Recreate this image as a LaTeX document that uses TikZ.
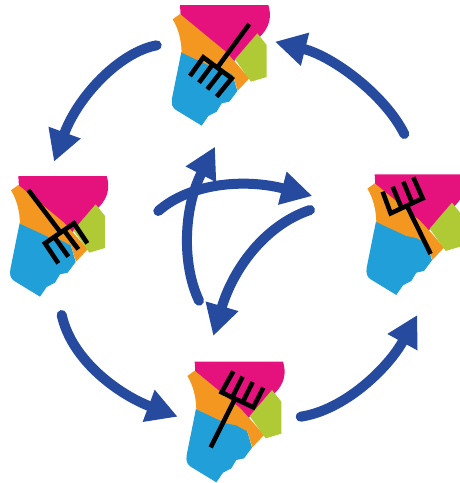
\documentclass[tikz,border=0pt]{standalone}
\usetikzlibrary{arrows.meta}
\definecolor{mag}{HTML}{E5127D}
\definecolor{org}{HTML}{F39720}
\definecolor{blu}{HTML}{219FD9}
\definecolor{grn}{HTML}{AFCA35}
\definecolor{arw}{HTML}{264A9E}
\tikzset{
  flow/.style={draw=arw,line width=10pt,line cap=round,-{Triangle[length=31pt,width=32pt,fill=arw]}},
  fork/.style={draw=black,line width=4.6pt,line join=miter,line cap=butt},
}
\newcommand{\MapAt}[2]{%
  \begin{scope}[xshift=#1pt,yshift=-#2pt,x=0.33333pt,y=-0.33333pt]
    \fill[mag] (90,15) -- (355,15) .. controls (366,50) and (358,80) .. (334,106) -- (250,185) -- (92,48) -- cycle;
    \fill[blu] (94,156) -- (185,195) -- (215,200) -- (246,218) -- (262,273) -- (238,305) -- (215,310) -- (200,335) -- (175,348) -- (155,377) -- (78,330) .. controls (66,322) and (64,312) .. (66,295) -- cycle;
    \fill[org] (68,58) -- (90,42) -- (226,154) -- (250,180) -- (298,235) -- (263,272) -- (248,224) -- (215,206) -- (185,200) -- (95,158) .. controls (94,120) and (85,85) .. (68,58) -- cycle;
    \fill[grn] (322,100) -- (350,135) -- (350,231) -- (303,245) -- (255,178) -- cycle;
  \end{scope}}
\begin{document}
\begin{tikzpicture}[x=1pt,y=-1pt]
\useasboundingbox (0,0) rectangle (460,483);
\clip (0,0) rectangle (460,483);
\MapAt{150}{0}
\MapAt{-11.67}{171}
\MapAt{344.67}{169.3}
\MapAt{164.67}{356.67}
% forks: top
\begin{scope}[shift={(150,0)},x=0.33333pt,y=-0.33333pt]
  \draw[fork] (120,228) -- (160,172) -- (245,235) -- (200,290);
  \draw[fork] (188,193) -- (147,248);
  \draw[fork] (215,213) -- (172,268);
  \draw[fork] (202,203) -- (298,72);
\end{scope}
% left
\begin{scope}[shift={(0,165)},x=0.33333pt,y=-0.33333pt]
  \draw[fork] (175,295) -- (135,235) -- (222,175) -- (262,235);
  \draw[fork] (163,216) -- (205,275);
  \draw[fork] (192,196) -- (235,253);
  \draw[fork] (183,204) -- (85,75);
\end{scope}
% right
\begin{scope}[shift={(350,165)},x=0.33333pt,y=-0.33333pt]
  \draw[fork] (98,80) -- (122,145) -- (218,100) -- (190,37);
  \draw[fork] (155,130) -- (128,65);
  \draw[fork] (187,115) -- (160,50);
  \draw[fork] (172,125) -- (242,267);
\end{scope}
% bottom
\begin{scope}[shift={(170,350)},x=0.33333pt,y=-0.33333pt]
  \draw[fork] (190,64) -- (155,127) -- (250,172) -- (280,113);
  \draw[fork] (187,142) -- (218,80);
  \draw[fork] (218,157) -- (248,96);
  \draw[fork] (195,146) -- (122,292);
\end{scope}
% connector ends
\coordinate (a1s) at (156.7,45.3);  \coordinate (a1t) at (54,161.7);
\coordinate (a2s) at (404.3,134);   \coordinate (a2t) at (275,41.7);
\coordinate (a3s) at (61.7,315);    \coordinate (a3t) at (177.7,416.7);
\coordinate (a4s) at (300.7,416.7); \coordinate (a4t) at (417.3,315);
\coordinate (c1s) at (158.3,211);   \coordinate (c1t) at (312.3,196);
\coordinate (c2s) at (310,210);     \coordinate (c2t) at (213.3,336);
\coordinate (c3s) at (199,300.7);   \coordinate (c3t) at (215,146.7);
\draw[flow] (a1s) .. controls (120,52) and (78,96) .. (a1t);
\draw[flow] (a2s) .. controls (385,95) and (333,56.3) .. (a2t);
\draw[flow] (a3s) .. controls (72,362) and (121.5,395.7) .. (a3t);
\draw[flow] (a4s) .. controls (345,410) and (388.5,367.6) .. (a4t);
\draw[flow] (c1s) .. controls (190,183) and (244.6,178.4) .. (c1t);
\draw[flow] (c2s) .. controls (265,225) and (233,269) .. (c2t);
\draw[flow] (c3s) .. controls (182,265) and (183,209) .. (c3t);
\end{tikzpicture}
\end{document}
